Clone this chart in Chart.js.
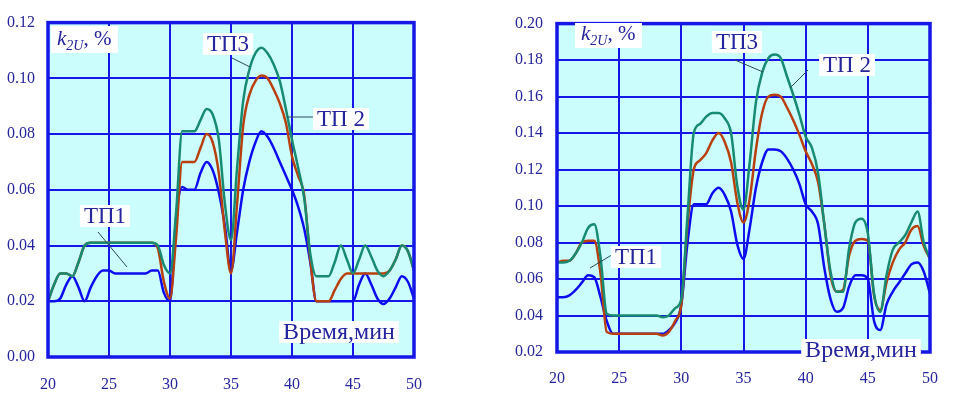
<!DOCTYPE html>
<html><head><meta charset="utf-8">
<script src="https://cdn.jsdelivr.net/npm/chart.js@4"></script>
<style>
html,body{margin:0;padding:0;background:#fff;width:955px;height:395px;overflow:hidden}
#c1{position:absolute;left:0;top:0}
#c2{position:absolute;left:480px;top:0}
</style></head><body>
<canvas id="c1" width="440" height="395"></canvas>
<canvas id="c2" width="475" height="395"></canvas>
<script>
// ---- data ----
const timeMin = [20,20.5,21,21.5,22,22.5,23,23.5,24,24.5,25,25.5,26,26.5,27,27.5,28,28.5,29,29.5,
  30,30.5,31,31.5,32,32.5,33,33.5,34,34.5,35,35.5,36,36.5,37,37.5,38,38.5,39,39.5,
  40,40.5,41,41.5,42,42.5,43,43.5,44,44.5,45,45.5,46,46.5,47,47.5,48,48.5,49,49.5,50];

const seriesNames = ['ТП1','ТП 2','ТП3'];

const leftTP1 = [0.020,0.020,0.021,0.026,0.029,0.025,0.020,0.025,0.029,0.031,
  0.031,0.030,0.030,0.030,0.030,0.030,0.030,0.031,0.031,0.023,
  0.020,0.050,0.061,0.060,0.060,0.066,0.070,0.067,0.059,0.047,
  0.031,0.045,0.060,0.070,0.077,0.081,0.079,0.075,0.070,0.065,
  0.060,0.054,0.046,0.034,0.020,0.020,0.020,0.020,0.020,0.020,
  0.020,0.026,0.030,0.026,0.021,0.019,0.021,0.025,0.029,0.027,0.021];
const leftTP2 = [0.020,0.026,0.030,0.030,0.029,0.034,0.040,0.041,0.041,0.041,
  0.041,0.041,0.041,0.041,0.041,0.041,0.041,0.041,0.039,0.027,
  0.021,0.043,0.070,0.070,0.070,0.075,0.080,0.077,0.066,0.045,
  0.030,0.055,0.083,0.094,0.099,0.101,0.100,0.096,0.091,0.084,
  0.072,0.065,0.058,0.035,0.020,0.020,0.020,0.024,0.028,0.030,
  0.030,0.030,0.030,0.030,0.030,0.030,0.031,0.035,0.040,0.038,0.031];
const leftTP3 = [0.020,0.026,0.030,0.030,0.029,0.034,0.040,0.041,0.041,0.041,
  0.041,0.041,0.041,0.041,0.041,0.041,0.041,0.041,0.040,0.033,
  0.030,0.052,0.081,0.081,0.081,0.085,0.089,0.087,0.078,0.055,
  0.042,0.068,0.092,0.103,0.109,0.111,0.109,0.105,0.099,0.089,
  0.078,0.068,0.057,0.037,0.029,0.029,0.029,0.034,0.040,0.035,
  0.030,0.035,0.040,0.036,0.031,0.029,0.031,0.035,0.040,0.038,0.031];

const rightTP1 = [0.050,0.050,0.051,0.054,0.058,0.062,0.061,0.050,0.037,0.030,
  0.030,0.030,0.030,0.030,0.030,0.030,0.030,0.030,0.032,0.036,
  0.046,0.080,0.101,0.101,0.101,0.107,0.110,0.106,0.097,0.079,
  0.071,0.088,0.110,0.124,0.131,0.131,0.130,0.126,0.120,0.112,
  0.101,0.097,0.090,0.066,0.049,0.042,0.044,0.056,0.062,0.062,
  0.060,0.037,0.032,0.046,0.053,0.058,0.063,0.068,0.069,0.064,0.052];
const rightTP2 = [0.069,0.070,0.070,0.074,0.080,0.081,0.081,0.063,0.031,0.030,
  0.030,0.030,0.030,0.030,0.030,0.030,0.030,0.029,0.031,0.037,
  0.046,0.090,0.120,0.125,0.129,0.136,0.140,0.135,0.124,0.102,
  0.091,0.104,0.131,0.151,0.160,0.161,0.160,0.154,0.147,0.139,
  0.130,0.123,0.113,0.090,0.062,0.053,0.054,0.073,0.081,0.082,
  0.081,0.051,0.043,0.058,0.069,0.076,0.080,0.087,0.089,0.078,0.071];
const rightTP3 = [0.069,0.069,0.070,0.074,0.080,0.088,0.090,0.072,0.041,0.040,
  0.040,0.040,0.040,0.040,0.040,0.040,0.040,0.039,0.040,0.044,
  0.049,0.095,0.140,0.145,0.149,0.151,0.151,0.148,0.140,0.111,
  0.098,0.124,0.157,0.173,0.181,0.183,0.181,0.171,0.161,0.150,
  0.138,0.132,0.118,0.090,0.064,0.053,0.053,0.077,0.091,0.093,
  0.085,0.052,0.042,0.062,0.076,0.080,0.084,0.091,0.097,0.080,0.071];

const xTickValues = [20,25,30,35,40,45,50];
const leftYTickValues = [0,0.02,0.04,0.06,0.08,0.10,0.12];
const rightYTickValues = [0.02,0.04,0.06,0.08,0.10,0.12,0.14,0.16,0.18,0.20];
const yTitleMain = 'k', yTitleSub = '2U', yTitleTail = ', %';
const xTitle = 'Время,мин';

// ---- styling ----
const COLORS = ['#0c0cf0', '#b8400e', '#178a72'];
const GRID = '#1616e6';
const TEXT = '#25259e';
const FONT = '"Liberation Serif", "Times New Roman", serif';

function pts(ys){ return ys.map((y,i)=>({x: timeMin[i], y})); }

const bgPlugin = {
  id: 'bgArea',
  beforeDraw(chart){
    const {ctx, chartArea: a} = chart;
    ctx.save(); ctx.fillStyle = '#ccfdfd';
    ctx.fillRect(a.left, a.top, a.right - a.left, a.bottom - a.top);
    ctx.restore();
  }
};

const framePlugin = {
  id: 'frameLabels',
  afterDatasetsDraw(chart, args, opts){
    const {ctx, chartArea: a} = chart;
    ctx.save();
    ctx.strokeStyle = GRID; ctx.lineWidth = 3.5;
    ctx.strokeRect(a.left, a.top, a.right - a.left, a.bottom - a.top);
    // leader lines
    ctx.strokeStyle = '#2a4a5a'; ctx.lineWidth = 1;
    for (const l of opts.leaders){
      ctx.beginPath(); ctx.moveTo(l[0], l[1]); ctx.lineTo(l[2], l[3]); ctx.stroke();
    }
    // text labels with white boxes
    ctx.textAlign = 'center'; ctx.textBaseline = 'middle';
    for (const L of opts.labels){
      ctx.font = (L.size || 23) + 'px ' + FONT;
      const w = ctx.measureText(L.text).width;
      const h = L.h || 22;
      ctx.fillStyle = '#ffffff';
      ctx.fillRect(L.cx - w/2 - 4, L.cy - h/2, w + 8, h);
      ctx.fillStyle = TEXT;
      ctx.fillText(L.text, L.cx, L.cy + 1);
    }
    // y title k2U, %
    const t = opts.ytitle;
    ctx.fillStyle = '#ffffff';
    ctx.fillRect(t.x, t.y, t.w, t.h);
    ctx.fillStyle = TEXT; ctx.textAlign = 'left'; ctx.textBaseline = 'alphabetic';
    let x = t.x + 6; const base = t.y + t.h - 8;
    ctx.font = 'italic 21px ' + FONT; ctx.fillText(yTitleMain, x, base); x += ctx.measureText(yTitleMain).width;
    ctx.font = 'italic 14px ' + FONT; ctx.fillText(yTitleSub, x, base + 5); x += ctx.measureText(yTitleSub).width;
    ctx.font = '21px ' + FONT; ctx.fillText(yTitleTail, x, base);
    ctx.restore();
  }
};

function makeChart(id, tp1, tp2, tp3, yTicks, yMin, yMax, geom, extras){
  return new Chart(document.getElementById(id), {
    type: 'line',
    data: {
      datasets: [
        {label: seriesNames[0], data: pts(tp1), borderColor: COLORS[0], order: 3},
        {label: seriesNames[1], data: pts(tp2), borderColor: COLORS[1], order: 2},
        {label: seriesNames[2], data: pts(tp3), borderColor: COLORS[2], order: 1}
      ].map(d => Object.assign(d, {borderWidth: 2.5, pointRadius: 0, cubicInterpolationMode: 'monotone', fill: false}))
    },
    options: {
      responsive: false, animation: false,
      layout: {padding: {top: geom.top, right: geom.right, left: 0, bottom: 0}},
      plugins: {legend: {display: false}, tooltip: {enabled: false}, frameLabels: extras},
      scales: {
        x: {
          type: 'linear', min: 20, max: 50,
          afterBuildTicks: s => { s.ticks = xTickValues.map(v => ({value: v})); },
          afterFit: s => { s.height = geom.xh; },
          grid: {color: GRID, lineWidth: 2, drawTicks: false},
          border: {display: false},
          ticks: {color: TEXT, font: {family: FONT, size: 16}, padding: geom.xpad, maxRotation: 0, autoSkip: false}
        },
        y: {
          min: yMin, max: yMax,
          afterBuildTicks: s => { s.ticks = yTicks.map(v => ({value: v})); },
          afterFit: s => { s.width = geom.yw; },
          grid: {color: GRID, lineWidth: 2, drawTicks: false},
          border: {display: false},
          ticks: {color: TEXT, font: {family: FONT, size: 16}, padding: geom.ypad, autoSkip: false,
            callback: v => Number(v).toFixed(2)}
        }
      }
    },
    plugins: [bgPlugin, framePlugin]
  });
}

makeChart('c1', leftTP1, leftTP2, leftTP3, leftYTickValues, 0, 0.12,
  {top: 12, right: 20, xh: 38, yw: 48, xpad: 18, ypad: 13},
  {
    ytitle: {x: 51, y: 26, w: 67, h: 27},
    leaders: [[232,58,250,67],[287,117,315,117],[98,232,127,267]],
    labels: [
      {text: 'ТП3', cx: 228, cy: 44},
      {text: seriesNames[1], cx: 341, cy: 119},
      {text: 'ТП1', cx: 105, cy: 216},
      {text: xTitle, cx: 339, cy: 332, size: 24}
    ]
  });

makeChart('c2', rightTP1, rightTP2, rightTP3, rightYTickValues, 0.02, 0.20,
  {top: 13, right: 15, xh: 43, yw: 77, xpad: 17, ypad: 14},
  {
    ytitle: {x: 95, y: 23, w: 67, h: 25},
    leaders: [[255,60,283,72],[328,70,310,88],[135,253,110,268]],
    labels: [
      {text: 'ТП3', cx: 257, cy: 42},
      {text: seriesNames[1], cx: 367, cy: 65},
      {text: 'ТП1', cx: 156, cy: 257},
      {text: xTitle, cx: 381, cy: 350, size: 24}
    ]
  });
</script>
</body></html>
